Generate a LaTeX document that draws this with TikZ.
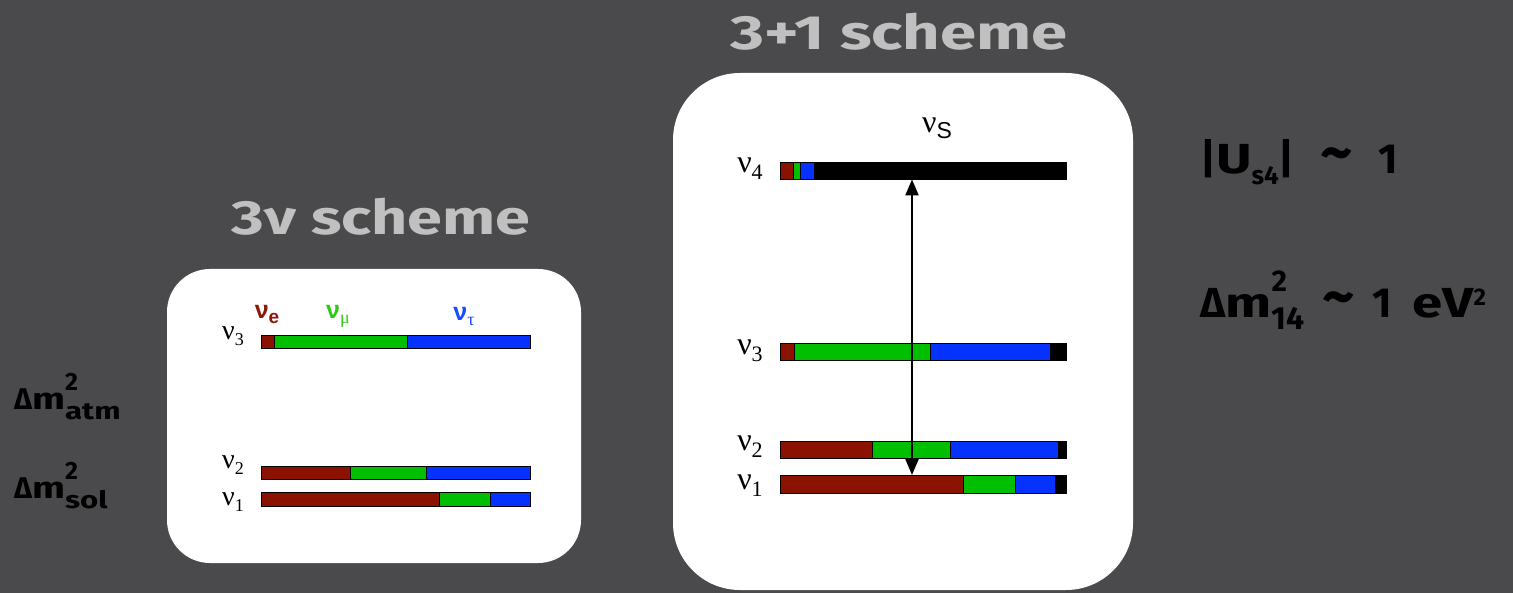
\documentclass[tikz,border=0pt]{standalone}
\usepackage{fontspec}
\setmainfont{Liberation Serif}
\newfontfamily\hand{Fira Sans}
\newfontfamily\helv{Liberation Sans}
\usetikzlibrary{arrows.meta}
\definecolor{board}{RGB}{74,74,76}
\definecolor{chalk}{RGB}{192,192,192}
\definecolor{nred}{RGB}{140,18,0}
\definecolor{ngreen}{RGB}{0,190,0}
\definecolor{nblue}{RGB}{5,50,255}
\definecolor{lred}{RGB}{140,24,10}
\definecolor{lgreen}{RGB}{50,200,20}
\definecolor{lblue}{RGB}{25,75,255}
\newcommand\fsz[1]{\fontsize{#1}{#1}\selectfont}
\newcommand\wide[1]{\scalebox{1.3}[1]{#1}}
\newcommand\approxsym{\scalebox{1.5}{\textasciitilde}}
\tikzset{
  panel/.style={fill=white, draw=none, inner sep=0, anchor=north west},
  seg/.style={draw=black, line width=0.7pt},
  barnode/.style={inner sep=0, anchor=north west, draw=none},
  title/.style={text=chalk, font=\hand\bfseries\fsz{48}},
  note/.style={text=black, font=\hand\bfseries\fsz{30}, anchor=west, inner sep=0},
  bignote/.style={text=black, font=\hand\bfseries\fsz{42}, anchor=west, inner sep=0},
  lev/.style={font=\fsz{28}},
  levr/.style={font=\fsz{32}},
  headtip/.tip={Triangle[length=16pt,width=13pt]},
}
\begin{document}
\begin{tikzpicture}[x=1pt, y=-1pt]
  \fill[board] (0,0) rectangle (1513,593);
  \useasboundingbox (0,0) rectangle (1513,593);

  % ---------- titles ----------
  \node[title] (t31) at (899,32) {\scalebox{1.36}[1]{3+1 scheme}};
  \node[title] (t3n) at (381,217) {\scalebox{1.31}[1]{3ν scheme}};

  % ---------- three-neutrino panel ----------
  \path[panel, rounded corners=43pt] (167,269) rectangle (581,563);
  \foreach \a/\b/\c in {261/274/nred,274/407/ngreen,407/530/nblue}
    \filldraw[seg, fill=\c] (\a,335) rectangle (\b,348);
  \foreach \a/\b/\c in {261/350/nred,350/426/ngreen,426/530/nblue}
    \filldraw[seg, fill=\c] (\a,466) rectangle (\b,479);
  \foreach \a/\b/\c in {261/439/nred,439/490/ngreen,490/530/nblue}
    \filldraw[seg, fill=\c] (\a,492) rectangle (\b,506);
  \node[lev] (a3) at (233,336) {ν\raisebox{-6pt}{\fsz{18}3}};
  \node[lev] (a2) at (233,465) {ν\raisebox{-6pt}{\fsz{18}2}};
  \node[lev] (a1) at (233,502) {ν\raisebox{-6pt}{\fsz{18}1}};
  \node[text=lred, font=\helv\bfseries\fsz{25}] (fe) at (267,314) {ν\raisebox{-5pt}{\fsz{19}e}};
  \node[text=lgreen] (fm) at (338,316) {{\helv\bfseries\fsz{25}ν}\raisebox{-5pt}{\fsz{18}μ}};
  \node[text=lblue] (ft) at (464,316) {{\helv\bfseries\fsz{25}ν}\raisebox{-5pt}{\fsz{18}τ}};

  % ---------- 3+1 panel ----------
  \path[panel, rounded corners=67pt] (673,73) rectangle (1133,590);
  \foreach \a/\b/\c in {780/793/nred,793/800/ngreen,800/814/nblue,814/1066/black}
    \filldraw[seg, fill=\c] (\a,162) rectangle (\b,179);
  \foreach \a/\b/\c in {780/794/nred,794/930/ngreen,930/1050/nblue,1050/1066/black}
    \filldraw[seg, fill=\c] (\a,343) rectangle (\b,360);
  \foreach \a/\b/\c in {780/872/nred,872/950/ngreen,950/1058/nblue,1058/1066/black}
    \filldraw[seg, fill=\c] (\a,441) rectangle (\b,458);
  \foreach \a/\b/\c in {780/963/nred,963/1015/ngreen,1015/1055/nblue,1055/1066/black}
    \filldraw[seg, fill=\c] (\a,475) rectangle (\b,493);
  \node[barnode, minimum width=286pt, minimum height=17pt] (r4) at (780,162) {};
  \node[barnode, minimum width=286pt, minimum height=18pt] (r1) at (780,475) {};
  \coordinate (axis) at (912,0);
  \draw[line width=2.2pt, headtip-headtip]
    (r4.south -| axis) -- (r1.north -| axis);
  \node[levr] (b4) at (750,169) {ν\raisebox{-7pt}{\fsz{22}4}};
  \node[levr] (b3) at (750,351) {ν\raisebox{-7pt}{\fsz{22}3}};
  \node[levr] (b2) at (750,447) {ν\raisebox{-7pt}{\fsz{22}2}};
  \node[levr] (b1) at (750,486) {ν\raisebox{-7pt}{\fsz{22}1}};
  \node[levr] (bs) at (937,128) {ν\raisebox{-6pt}{\helv\fsz{23}S}};

  % ---------- splittings ----------
  \node[note] (atm) at (14,397) {Δ\wide{m}\rlap{\raisebox{19pt}{\fsz{25}2}}\raisebox{-10pt}{\fsz{24}\wide{atm}}};
  \node[note] (sol) at (14,486) {Δ\wide{m}\rlap{\raisebox{19pt}{\fsz{25}2}}\raisebox{-10pt}{\fsz{24}\wide{sol}}};
  \node[bignote] (us4) at (1200,162) {|\wide{U}\raisebox{-11pt}{\fsz{26}s4}|\hspace{26pt}\approxsym\hspace{26pt}1};
  \node[bignote] (dm14) at (1200,300) {Δ\wide{m}\rlap{\raisebox{26pt}{\fsz{30}2}}\raisebox{-12pt}{\fsz{32}14}\hspace{18pt}\approxsym\hspace{18pt}1\hspace{20pt}\wide{eV}\raisebox{12pt}{\fsz{24}2}};
\end{tikzpicture}
\end{document}
